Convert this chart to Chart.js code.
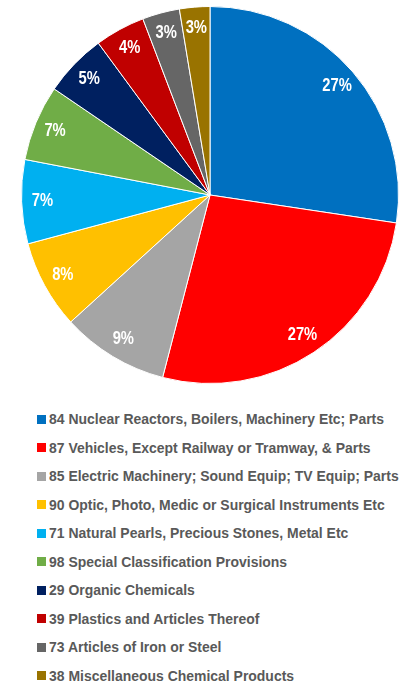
<!DOCTYPE html>
<html>
<head>
<meta charset="utf-8">
<script src="https://cdn.jsdelivr.net/npm/chart.js@4/dist/chart.umd.min.js"></script>
<style>
  html, body { margin: 0; padding: 0; background: #ffffff; overflow: hidden; }
  #wrap { position: relative; width: 407px; height: 683px; overflow: hidden; }
  #chartBox { position: absolute; left: 0; top: 0; width: 407px; height: 390px; }
  #legend { position: absolute; left: 37px; top: 405px; margin: 0; padding: 0; list-style: none;
            font-family: "Liberation Sans", Arial, sans-serif; font-weight: bold;
            font-size: 15px; color: #595959; }
  #legend li { height: 28.5px; line-height: 28.5px; white-space: nowrap; display: flex; align-items: center; }
  #legend .box { display: inline-block; width: 9px; height: 9px; margin-right: 3px; flex: none; }
  #legend .txt { display: inline-block; transform-origin: 0 50%; }
</style>
</head>
<body>
<div id="wrap">
  <div id="chartBox"><canvas id="c"></canvas></div>
  <ul id="legend"></ul>
</div>
<script>
const categories = [
  "84 Nuclear Reactors, Boilers, Machinery Etc; Parts",
  "87 Vehicles, Except Railway or Tramway, & Parts",
  "85 Electric Machinery; Sound Equip; TV Equip; Parts",
  "90 Optic, Photo, Medic or Surgical Instruments Etc",
  "71 Natural Pearls, Precious Stones, Metal Etc",
  "98 Special Classification Provisions",
  "29 Organic Chemicals",
  "39 Plastics and Articles Thereof",
  "73 Articles of Iron or Steel",
  "38 Miscellaneous Chemical Products"
];
const shares = [27.4, 26.7, 9.2, 7.6, 7.2, 6.5, 5.4, 4.3, 3.2, 2.6];
const percentLabels = ["27%", "27%", "9%", "8%", "7%", "7%", "5%", "4%", "3%", "3%"];
const sliceColors = ["#0070C0", "#FF0000", "#A5A5A5", "#FFC000", "#00B0F0", "#70AD47", "#002060", "#C00000", "#666666", "#997300"];

const narrow = 0.82;

const labelPlugin = {
  id: 'sliceLabels',
  afterDatasetsDraw(chart) {
    const ctx = chart.ctx;
    const meta = chart.getDatasetMeta(0);
    ctx.save();
    ctx.fillStyle = '#ffffff';
    ctx.font = 'bold 18px "Liberation Sans", Arial, sans-serif';
    ctx.textAlign = 'center';
    ctx.textBaseline = 'middle';
    meta.data.forEach((arc, i) => {
      const p = arc.getProps(['x', 'y', 'startAngle', 'endAngle', 'outerRadius'], true);
      const mid = (p.startAngle + p.endAngle) / 2;
      const r = p.outerRadius * 0.89;
      ctx.save();
      ctx.translate(p.x + Math.cos(mid) * r, p.y + Math.sin(mid) * r);
      ctx.scale(narrow, 1);
      ctx.fillText(percentLabels[i], 0, 0);
      ctx.restore();
    });
    ctx.restore();
  }
};

const chart = new Chart(document.getElementById('c'), {
  type: 'pie',
  data: {
    labels: categories,
    datasets: [{
      data: shares,
      backgroundColor: sliceColors,
      borderColor: '#ffffff',
      borderWidth: 1
    }]
  },
  options: {
    responsive: true,
    maintainAspectRatio: false,
    animation: false,
    layout: { padding: { left: 21, right: 8, top: 6, bottom: 6 } },
    plugins: { legend: { display: false }, tooltip: { enabled: false } }
  },
  plugins: [labelPlugin]
});

// legend text compressed to match the narrow face of the original
const mctx = document.createElement('canvas').getContext('2d');
mctx.font = 'bold 15px "Liberation Sans", Arial, sans-serif';
const legendScale = 335 / mctx.measureText(categories[0]).width;

const legend = document.getElementById('legend');
categories.forEach((name, i) => {
  const li = document.createElement('li');
  const box = document.createElement('span');
  box.className = 'box';
  box.style.background = sliceColors[i];
  const txt = document.createElement('span');
  txt.className = 'txt';
  txt.textContent = name;
  txt.style.transform = 'scaleX(' + legendScale.toFixed(4) + ')';
  li.appendChild(box);
  li.appendChild(txt);
  legend.appendChild(li);
});
</script>
</body>
</html>
